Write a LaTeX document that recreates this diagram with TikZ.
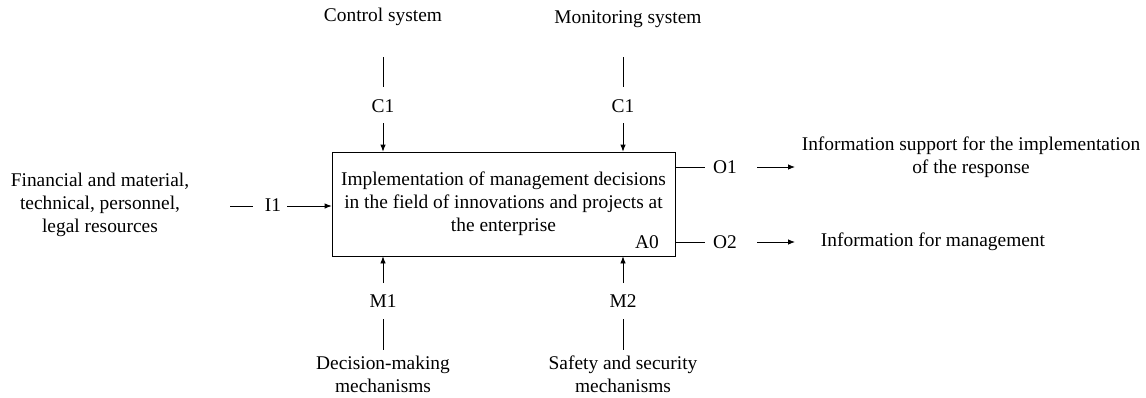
\documentclass[tikz,border=0pt]{standalone}
\usepackage{fontspec}
\setmainfont{Liberation Serif}
\usetikzlibrary{arrows.meta}
\begin{document}
\begin{tikzpicture}[x=1pt,y=-1pt,
  every node/.style={font=\fontsize{19.4}{23}\selectfont, inner sep=0pt, align=center},
  ln/.style={line width=0.8pt},
  arr/.style={line width=0.8pt, -{Latex[length=7pt,width=5.5pt]}}]
\useasboundingbox (0,0) rectangle (1146,397);
% main box
\node[draw, line width=0.8pt, minimum width=343pt, minimum height=104pt] (box) at (503.5,204) {};
\node (boxtxt) at (503.5,204) {Implementation of management decisions\\in the field of innovations and projects at\\the enterprise};
\node (a0) at (647,242) {A0};
% controls
\node (cs) at (383,17) {Control system};
\node (ms) at (628,19) {Monitoring system};
\node (c1a) at (383,106) {C1};
\node (c1b) at (623,106) {C1};
\coordinate (c1aT) at (383,57); \coordinate (c1aM) at (383,87); \coordinate (c1aL) at (383,123);
\coordinate (c1bT) at (623,57); \coordinate (c1bM) at (623,87); \coordinate (c1bL) at (623,123);
\draw[ln] (c1aT) -- (c1aM);
\draw[arr] (c1aL) -- (box.north -| c1aL);
\draw[ln] (c1bT) -- (c1bM);
\draw[arr] (c1bL) -- (box.north -| c1bL);
% mechanisms
\node (m1) at (383,301) {M1};
\node (m2) at (623,301) {M2};
\node (dm) at (383,374) {Decision-making\\mechanisms};
\node (ss) at (623,374) {Safety and security\\mechanisms};
\coordinate (m1U) at (383,283); \coordinate (m1D) at (383,319); \coordinate (m1B) at (383,350);
\coordinate (m2U) at (623,283); \coordinate (m2D) at (623,319); \coordinate (m2B) at (623,350);
\draw[arr] (m1U) -- (box.south -| m1U);
\draw[ln] (m1D) -- (m1B);
\draw[arr] (m2U) -- (box.south -| m2U);
\draw[ln] (m2D) -- (m2B);
% input
\node (fin) at (100,205) {Financial and material,\\technical, personnel,\\legal resources};
\node (i1) at (273,205) {I1};
\coordinate (i1L) at (230,206); \coordinate (i1R) at (253,206);
\coordinate (i1A) at (287,206);
\draw[ln] (i1L) -- (i1R);
\draw[arr] (i1A) -- (box.west |- i1A);
% outputs
\node (o1) at (725,167) {O1};
\node (o2) at (725,242) {O2};
\node (isr) at (971,157) {Information support for the implementation\\of the response};
\node (ifm) at (933,242) {Information for management};
\coordinate (o1L) at (705,167); \coordinate (o1A) at (757,167); \coordinate (o1B) at (795,167);
\coordinate (o2L) at (705,242); \coordinate (o2A) at (757,242); \coordinate (o2B) at (795,242);
\draw[ln] (box.east |- o1L) -- (o1L);
\draw[arr] (o1A) -- (o1B);
\draw[ln] (box.east |- o2L) -- (o2L);
\draw[arr] (o2A) -- (o2B);
\end{tikzpicture}
\end{document}
